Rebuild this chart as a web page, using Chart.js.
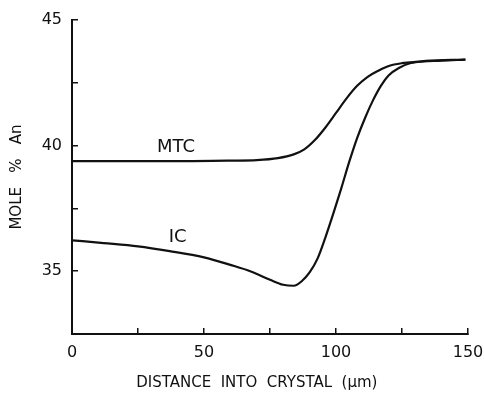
<!DOCTYPE html>
<html>
<head>
<meta charset="utf-8">
<script src="https://cdn.jsdelivr.net/npm/chart.js@4/dist/chart.umd.min.js"></script>
<style>
  body { margin: 0; background: #fff; }
  canvas { display: block; }
</style>
</head>
<body>
<canvas id="chart" width="484" height="393"></canvas>
<script>
// curves (distance in um, mole % An)
const mtcX = [0, 20, 40, 60, 70, 78, 84, 88, 92, 96, 100, 104, 108, 112, 116, 120, 125, 130, 140, 149];
const mtcY = [39.38, 39.38, 39.38, 39.4, 39.42, 39.5, 39.65, 39.85, 40.22, 40.72, 41.3, 41.88, 42.38, 42.74, 42.98, 43.17, 43.28, 43.33, 43.38, 43.42];

const icX = [0, 12, 25, 37, 50, 60, 68, 75, 80, 84, 87, 90, 93, 96, 99, 102, 105, 108, 111, 114, 117, 120, 124, 128, 134, 149];
const icY = [36.23, 36.12, 35.99, 35.8, 35.55, 35.25, 34.98, 34.66, 34.46, 34.42, 34.6, 34.95, 35.5, 36.35, 37.3, 38.3, 39.35, 40.3, 41.1, 41.8, 42.38, 42.8, 43.1, 43.28, 43.37, 43.42];

const xTicks = [0, 50, 100, 150];
const yTicks = [35, 40, 45];

const curveLabels = [
  { text: 'MTC', x: 39.4, y: 39.94 },
  { text: 'IC', x: 40, y: 36.34 }
];

const ink = '#111';
const toPoints = (xs, ys) => xs.map((x, i) => ({ x: x, y: ys[i] }));

const curve = (label, xs, ys) => ({
  label: label,
  data: toPoints(xs, ys),
  showLine: true,
  borderColor: ink,
  borderWidth: 2.2,
  pointRadius: 0,
  cubicInterpolationMode: 'monotone',
  fill: false
});

// text labels on the curves + x axis title
const textPlugin = {
  id: 'texts',
  afterDraw(chart) {
    const ctx = chart.ctx;
    const xs = chart.scales.x, ys = chart.scales.y;
    ctx.save();
    ctx.fillStyle = ink;
    ctx.textAlign = 'center';
    ctx.textBaseline = 'middle';
    ctx.font = '18px "DejaVu Sans"';
    curveLabels.forEach(l => {
      ctx.fillText(l.text, xs.getPixelForValue(l.x), ys.getPixelForValue(l.y));
    });
    ctx.font = '15px "DejaVu Sans"';
    ctx.fillText('DISTANCE  INTO  CRYSTAL  (\u03bcm)', xs.getPixelForValue(70), 383);
    ctx.restore();
  }
};

new Chart(document.getElementById('chart'), {
  type: 'scatter',
  data: {
    datasets: [curve('MTC', mtcX, mtcY), curve('IC', icX, icY)]
  },
  options: {
    responsive: false,
    animation: false,
    devicePixelRatio: 1,
    layout: { padding: { left: 0, top: 20, right: 16, bottom: 0 } },
    plugins: {
      legend: { display: false },
      tooltip: { enabled: false }
    },
    scales: {
      x: {
        type: 'linear',
        min: 0,
        max: 150,
        ticks: {
          stepSize: 25,
          padding: 15,
          color: ink,
          font: { family: 'DejaVu Sans', size: 16 },
          callback: v => xTicks.includes(v) ? v : ''
        },
        grid: { drawOnChartArea: false, tickLength: -6, color: ink, lineWidth: 1.5 },
        border: { color: ink, width: 2 },
        afterFit: s => { s.height = 59; s.paddingLeft = 0; s.paddingRight = 0; }
      },
      y: {
        type: 'linear',
        min: 32.5,
        max: 45,
        ticks: {
          stepSize: 2.5,
          padding: 16,
          color: ink,
          font: { family: 'DejaVu Sans', size: 16 },
          callback: v => yTicks.includes(v) ? v : ''
        },
        grid: { drawOnChartArea: false, tickLength: -6, color: ink, lineWidth: 1.5 },
        border: { color: ink, width: 2 },
        title: {
          display: true,
          text: 'MOLE   %   An',
          color: ink,
          font: { family: 'DejaVu Sans', size: 15 },
          padding: { top: 8, bottom: 0 }
        },
        afterFit: s => { s.width = 72; s.paddingTop = 0; s.paddingBottom = 0; }
      }
    }
  },
  plugins: [textPlugin]
});
</script>
</body>
</html>
